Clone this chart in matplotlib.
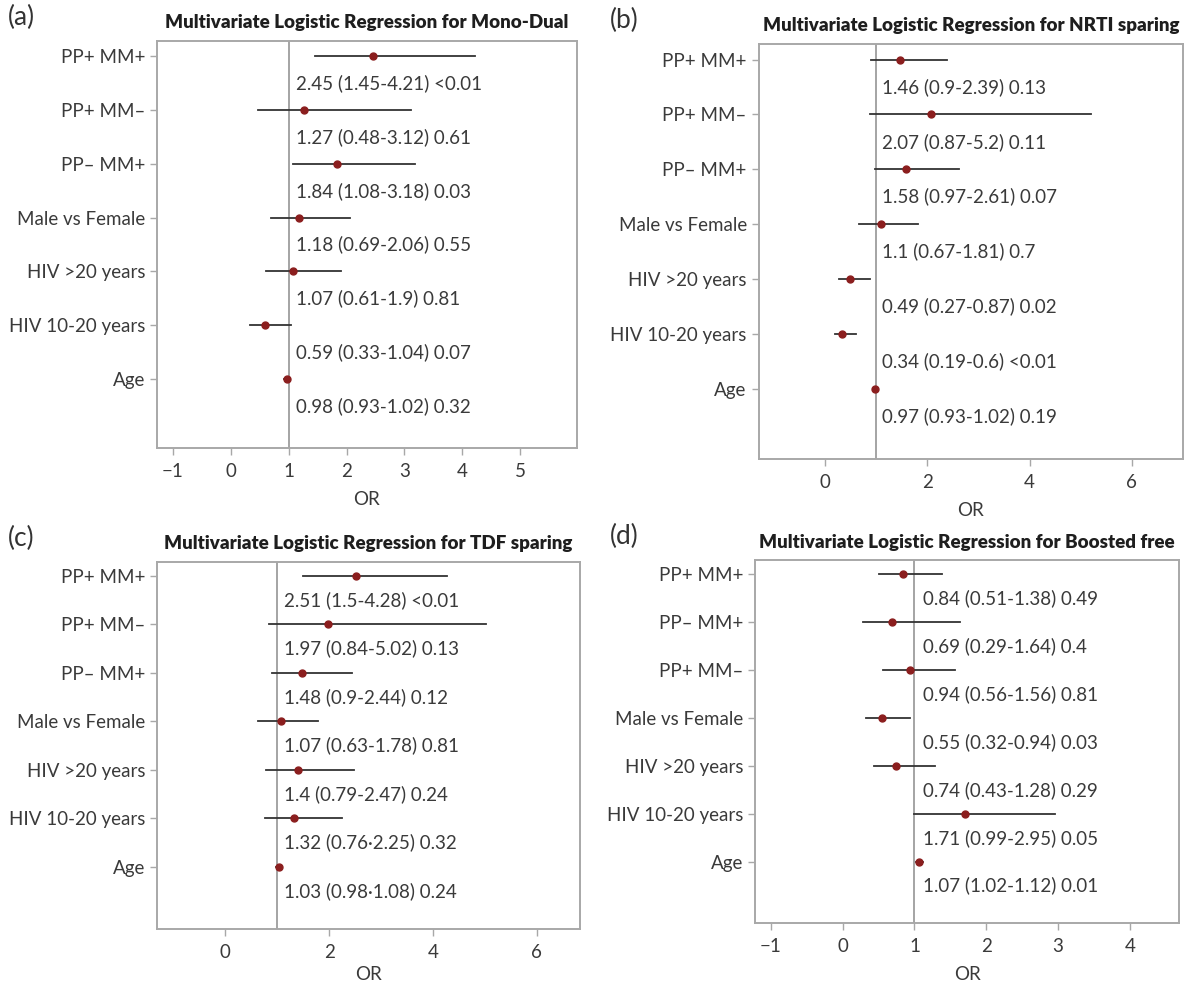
import matplotlib
matplotlib.use("Agg")
import matplotlib.pyplot as plt

plt.rcParams['font.family'] = ['Lato', 'DejaVu Sans']

# ---- data (rows listed top to bottom) ----
labels_std = ["PP+ MM+", "PP+ MM–", "PP– MM+", "Male vs Female",
              "HIV >20 years", "HIV 10-20 years", "Age"]
labels_d = ["PP+ MM+", "PP– MM+", "PP+ MM–", "Male vs Female",
            "HIV >20 years", "HIV 10-20 years", "Age"]

or_a = [2.45, 1.27, 1.84, 1.18, 1.07, 0.59, 0.98]
lo_a = [1.45, 0.48, 1.08, 0.69, 0.61, 0.33, 0.93]
hi_a = [4.21, 3.12, 3.18, 2.06, 1.9, 1.04, 1.02]
p_a = ["<0.01", "0.61", "0.03", "0.55", "0.81", "0.07", "0.32"]

or_b = [1.46, 2.07, 1.58, 1.1, 0.49, 0.34, 0.97]
lo_b = [0.9, 0.87, 0.97, 0.67, 0.27, 0.19, 0.93]
hi_b = [2.39, 5.2, 2.61, 1.81, 0.87, 0.6, 1.02]
p_b = ["0.13", "0.11", "0.07", "0.7", "0.02", "<0.01", "0.19"]

or_c = [2.51, 1.97, 1.48, 1.07, 1.4, 1.32, 1.03]
lo_c = [1.5, 0.84, 0.9, 0.63, 0.79, 0.76, 0.98]
hi_c = [4.28, 5.02, 2.44, 1.78, 2.47, 2.25, 1.08]
p_c = ["<0.01", "0.13", "0.12", "0.81", "0.24", "0.32", "0.24"]
sep_c = ["-", "-", "-", "-", "-", "·", "·"]

or_d = [0.84, 0.69, 0.94, 0.55, 0.74, 1.71, 1.07]
lo_d = [0.51, 0.29, 0.56, 0.32, 0.43, 0.99, 1.02]
hi_d = [1.38, 1.64, 1.56, 0.94, 1.28, 2.95, 1.12]
p_d = ["0.49", "0.4", "0.81", "0.03", "0.29", "0.05", "0.01"]

DOT = "#8b1e1e"
LINE = "#333333"
TXT = "#3a3a3a"
SPINE = "#a8a8a8"

fig = plt.figure(figsize=(11.89, 9.91), dpi=100)


def forest(rect, tag, title, labels, ors, los, his, ps, xlim, xticks,
           seps=None, labelpad=8):
    ax = fig.add_axes(rect)
    rows = list(range(len(labels)))
    if seps is None:
        seps = ["-"] * len(labels)
    ax.axvline(1, color="#8c8c8c", lw=1.1, zorder=1)
    for y, o, lo, hi, p, s in zip(rows, ors, los, his, ps, seps):
        ax.plot([lo, hi], [y, y], color=LINE, lw=1.3, zorder=2)
        ax.plot(o, y, 'o', color=DOT, ms=5, zorder=3)
        ax.text(1.12, y + 0.5, f"{o} ({lo}{s}{hi}) {p}", fontsize=13.5,
                color=TXT, va='center', ha='left')
    ax.set_ylim(len(labels) - 1 + 1.28, -0.29)
    ax.set_xlim(*xlim)
    ax.set_yticks(rows)
    ax.set_yticklabels(labels)
    ax.set_xticks(xticks)
    ax.set_xlabel("OR", fontsize=13.5, color=TXT, labelpad=labelpad)
    ax.tick_params(axis='both', labelsize=13.5, colors=SPINE, labelcolor=TXT,
                   length=5, width=1)
    ax.tick_params(axis='x', pad=6)
    for sp in ax.spines.values():
        sp.set_color(SPINE)
        sp.set_linewidth(1.4)
    ax.set_title(title, fontsize=13.5, fontweight='heavy', color="#1e1e1e", pad=9)
    pos = ax.get_position()
    fig.text(0.007 if pos.x0 < 0.5 else 0.513, pos.y1 + 0.011, tag,
             fontsize=19, color="#333333", va='bottom', ha='left')
    return ax


forest([0.132, 0.548, 0.353, 0.411], "(a)",
       "Multivariate Logistic Regression for Mono-Dual",
       labels_std, or_a, lo_a, hi_a, p_a, (-1.27, 5.97), [-1, 0, 1, 2, 3, 4, 5])
forest([0.638, 0.537, 0.357, 0.419], "(b)",
       "Multivariate Logistic Regression for NRTI sparing",
       labels_std, or_b, lo_b, hi_b, p_b, (-1.3, 7.0), [0, 2, 4, 6])
forest([0.132, 0.063, 0.356, 0.370], "(c)",
       "Multivariate Logistic Regression for TDF sparing",
       labels_std, or_c, lo_c, hi_c, p_c, (-1.32, 6.84), [0, 2, 4, 6],
       seps=sep_c, labelpad=4)
forest([0.635, 0.0686, 0.357, 0.366], "(d)",
       "Multivariate Logistic Regression for Boosted free",
       labels_d, or_d, lo_d, hi_d, p_d, (-1.22, 4.69), [-1, 0, 1, 2, 3, 4])

fig.savefig("out.png", dpi=100, facecolor='white')
